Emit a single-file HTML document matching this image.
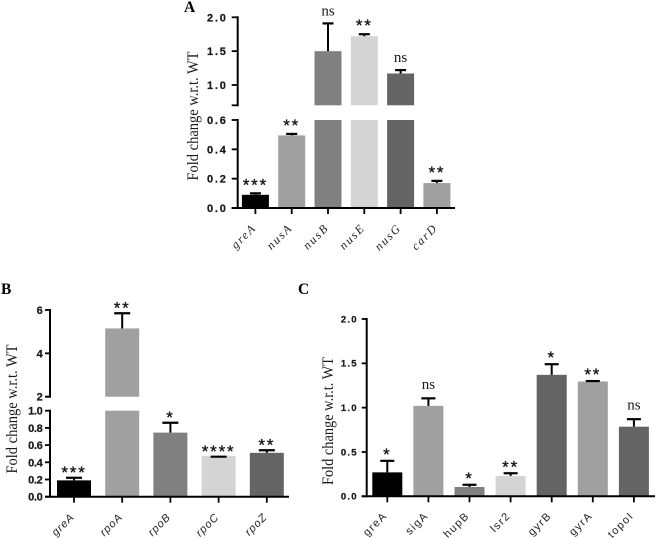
<!DOCTYPE html>
<html>
<head>
<meta charset="utf-8">
<title>Fold change charts</title>
<style>
html,body{margin:0;padding:0;background:#fff;}
svg{display:block;filter:blur(0.35px);}
</style>
</head>
<body>
<svg id="fig" xmlns="http://www.w3.org/2000/svg" width="656" height="538" viewBox="0 0 656 538">
<rect x="0" y="0" width="656" height="538" fill="#fff"/>
</svg>
<script>
// Panel A data
const aCategories = ['greA','nusA','nusB','nusE','nusG','carD'];
const aValues = [0.09,0.495,1.5,1.72,1.17,0.17];
const aErrorTops = [0.10,0.505,1.91,1.75,1.22,0.185];
const aSignificance = ['***','**','ns','**','ns','**'];
const aLowerTicks = [0,0.2,0.4,0.6];
const aUpperTicks = [1.0,1.5,2.0];
const aTickLabelsLower = ['0.0','0.2','0.4','0.6'];
const aTickLabelsUpper = ['1.0','1.5','2.0'];

// Panel B data
const bCategories = ['greA','rpoA','rpoB','rpoC','rpoZ'];
const bValues = [0.19,5.15,0.745,0.475,0.51];
const bErrorTops = [0.22,5.85,0.86,0.465,0.54];
const bSignificance = ['***','**','*','****','**'];
const bLowerTicks = [0,0.2,0.4,0.6,0.8,1.0];
const bUpperTicks = [2,4,6];
const bTickLabelsLower = ['0.0','0.2','0.4','0.6','0.8','1.0'];
const bTickLabelsUpper = ['2','4','6'];

// Panel C data
const cCategories = ['greA','sigA','hupB','lsr2','gyrB','gyrA','topoI'];
const cValues = [0.27,1.02,0.105,0.23,1.37,1.295,0.785];
const cErrorTops = [0.40,1.105,0.13,0.26,1.49,1.30,0.87];
const cSignificance = ['*','ns','*','**','*','**','ns'];
const cTicks = [0,0.5,1.0,1.5,2.0];
const cTickLabels = ['0.0','0.5','1.0','1.5','2.0'];

const barColors = ['#000000','#a0a0a0','#808080','#d4d4d4','#646464','#a0a0a0','#646464'];
const cBarColors = ['#000000','#a0a0a0','#808080','#d4d4d4','#646464','#a0a0a0','#646464'];
const aBarColors = ['#000000','#a0a0a0','#808080','#d4d4d4','#646464','#a0a0a0'];

const NS = 'http://www.w3.org/2000/svg';
const fig = document.getElementById('fig');

function mk(parent, tag, attrs, txt){
  const e = document.createElementNS(NS, tag);
  for (const k in attrs) e.setAttribute(k, attrs[k]);
  if (txt !== undefined) e.textContent = txt;
  parent.appendChild(e);
  return e;
}

function makeScale(d0, d1, r0, r1){
  return function(v){ return r0 + (v - d0) * (r1 - r0) / (d1 - d0); };
}

function drawPanel(p){
  const g = mk(fig, 'g', {});
  
  

  const yOf = function(v){
    if (p.upper && v > p.lower.dMax) return p.upper.scale(v);
    return p.lower.scale(v);
  };
  const xOf = function(i){ return p.x0 + p.step * i; };

  // bars
  p.categories.forEach(function(cat, i){
    const cx = xOf(i);
    const bx = cx - p.barW / 2;
    const val = p.values[i];
    const top = p.errorTops[i];
    const col = p.colors[i];
    const capY = yOf(top);
    const barY = yOf(val);

    if (p.upper && val > p.lower.dMax) {
      const upperY = p.upper.scale(val);
      const upperB = p.upper.scale(p.upper.dMin);
      const r1 = mk(g, 'rect', {x:bx, y:upperY, width:p.barW, height:upperB - upperY, fill:col});
      
      
      const lowTop = p.lower.scale(p.lower.dMax);
      const r2 = mk(g, 'rect', {x:bx, y:lowTop, width:p.barW, height:p.lower.scale(0) - lowTop, fill:col});
      
      
    } else {
      const r = mk(g, 'rect', {x:bx, y:barY, width:p.barW, height:p.lower.scale(0) - barY, fill:col});
      
      
    }

    const eb = mk(g, 'line', {x1:cx, x2:cx, y1:barY, y2:capY, stroke:'#000', 'stroke-width':2});
    
    
    const cap = mk(g, 'line', {x1:cx - p.capW/2, x2:cx + p.capW/2, y1:capY, y2:capY, stroke:'#000', 'stroke-width':2.2});
    
    

    // significance
    const sig = p.significance[i];
    const isNs = sig === 'ns';
    const labelY = isNs ? capY - p.nsGap + 3.5 : capY - p.starGap + 8;
    const s = mk(g, 'text', {
      x: cx, y: labelY, 'text-anchor':'middle',
      'font-family': isNs ? '"Liberation Serif", serif' : '"Liberation Sans", sans-serif',
      'font-size': isNs ? 15 : 17, 'letter-spacing': isNs ? 0 : 1.8, fill:'#1a1a1a',
      stroke: isNs ? 'none' : '#1a1a1a', 'stroke-width': isNs ? 0 : 0.35
    }, sig);
    
    

    // x tick
    const y0 = p.lower.scale(0);
    const t = mk(g, 'line', {x1:cx, x2:cx, y1:y0, y2:y0 + 6, stroke:'#000', 'stroke-width':1.8});
    
    

    // x label
    const lx = cx + p.xLabelDx;
    const ly = y0 + p.xLabelDy;
    const l = mk(g, 'text', {
      x: lx, y: ly, 'text-anchor':'end',
      transform: 'rotate(-45 ' + lx + ' ' + ly + ')',
      'font-family': p.xFont, 'font-size': p.xFontSize, 'font-style': p.xItalic ? 'italic' : 'normal',
      'letter-spacing': p.xSpacing, fill:'#222'
    }, cat);
    
    
  });

  // y axis segments
  const drawAxisSeg = function(scale, dFrom, dTo, ticks, labels, segName){
    const sAxis = mk(g, 'line', {x1:p.axisX, x2:p.axisX, y1:scale(dFrom) + 1, y2:scale(dTo) - 1, stroke:'#000', 'stroke-width':2});
    
    
    ticks.forEach(function(tv, i){
      const ty = scale(tv);
      const tick = mk(g, 'line', {x1:p.axisX - p.tickLen, x2:p.axisX, y1:ty, y2:ty, stroke:'#000', 'stroke-width':1.8});
      
      
      const tl = mk(g, 'text', {
        x: p.axisX - p.yLabelGap, y: ty + p.yFontSize * 0.36, 'text-anchor':'end',
        'font-family':'"Liberation Sans", sans-serif', 'font-weight':'bold',
        'font-size':p.yFontSize, 'letter-spacing':p.ySpacing, fill:'#1a1a1a',
        stroke:'#1a1a1a', 'stroke-width':0.25
      }, labels[i]);
      
      
    });
  };
  drawAxisSeg(p.lower.scale, 0, p.lower.dMax, p.lower.ticks, p.lower.labels, 'y-axis-lower');
  if (p.upper) {
    drawAxisSeg(p.upper.scale, p.upper.dMin, p.upper.dMax, p.upper.ticks, p.upper.labels, 'y-axis-upper');
    const bt = mk(g, 'line', {x1:p.axisX - p.tickLen, x2:p.axisX, y1:p.upper.scale(p.upper.dMin), y2:p.upper.scale(p.upper.dMin), stroke:'#000', 'stroke-width':1.8});
    
    
  }

  // x axis
  const y0 = p.lower.scale(0);
  const xa = mk(g, 'line', {x1:p.axisX - p.tickLen, x2:p.axisEnd, y1:y0, y2:y0, stroke:'#000', 'stroke-width':2});
  
  

  // y title
  const yt = mk(g, 'text', {
    x:p.titleX, y:p.titleY, 'text-anchor':'middle',
    transform:'rotate(-90 ' + p.titleX + ' ' + p.titleY + ')',
    'font-family':'"Liberation Serif", serif', 'font-size':16, fill:'#1a1a1a',
    textLength:p.titleLen, lengthAdjust:'spacingAndGlyphs'
  }, 'Fold change w.r.t. WT');
  
  

  // panel letter
  const pl = mk(g, 'text', {
    x:p.letterX, y:p.letterY, 'font-family':'"Liberation Serif", serif',
    'font-weight':'bold', 'font-size':15.5, fill:'#000'
  }, p.letter);
  
  
}

drawPanel({
  name:'panel-a', letter:'A', letterX:184, letterY:12,
  categories:aCategories, values:aValues, errorTops:aErrorTops, significance:aSignificance, colors:aBarColors,
  x0:255.4, step:36.3, barW:27, capW:11, starGap:11, nsGap:11.5, tickLen:6,
  axisX:237.7, axisEnd:455, yLabelGap:10, yFontSize:11, ySpacing:1.8,
  xLabelDx:1.5, xLabelDy:20.5, xFont:'"Liberation Serif", serif', xFontSize:12, xItalic:true, xSpacing:1.7,
  titleX:198, titleY:116, titleLen:129,
  lower:{dMax:0.6, scale:makeScale(0,0.6,208,120), ticks:aLowerTicks, labels:aTickLabelsLower},
  upper:{dMin:0.7, dMax:2.0, scale:makeScale(0.7,2.0,105.3,17.3), ticks:aUpperTicks, labels:aTickLabelsUpper}
});

drawPanel({
  name:'panel-b', letter:'B', letterX:1, letterY:294,
  categories:bCategories, values:bValues, errorTops:bErrorTops, significance:bSignificance, colors:barColors,
  x0:74, step:48.2, barW:34, capW:16, starGap:7.8, nsGap:12, tickLen:5,
  axisX:50, axisEnd:289, yLabelGap:7.5, yFontSize:11, ySpacing:-0.3,
  xLabelDx:1, xLabelDy:21, xFont:'"Liberation Sans", sans-serif', xFontSize:11, xItalic:true, xSpacing:0.9,
  titleX:17, titleY:409, titleLen:129,
  lower:{dMax:1.0, scale:makeScale(0,1,496.7,410.7), ticks:bLowerTicks, labels:bTickLabelsLower},
  upper:{dMin:2, dMax:6, scale:makeScale(2,6,396.7,310), ticks:bUpperTicks, labels:bTickLabelsUpper}
});

drawPanel({
  name:'panel-c', letter:'C', letterX:298, letterY:294,
  categories:cCategories, values:cValues, errorTops:cErrorTops, significance:cSignificance, colors:cBarColors,
  x0:387.3, step:41.1, barW:30, capW:14, starGap:9, nsGap:13, tickLen:5,
  axisX:366.7, axisEnd:655, yLabelGap:9, yFontSize:9.5, ySpacing:1.2,
  xLabelDx:0.5, xLabelDy:20, xFont:'"Liberation Sans", sans-serif', xFontSize:11, xItalic:false, xSpacing:1.4,
  titleX:333, titleY:421, titleLen:128,
  lower:{dMax:2.0, scale:makeScale(0,2,496.3,319), ticks:cTicks, labels:cTickLabels},
  upper:null
});
</script>
</body>
</html>
